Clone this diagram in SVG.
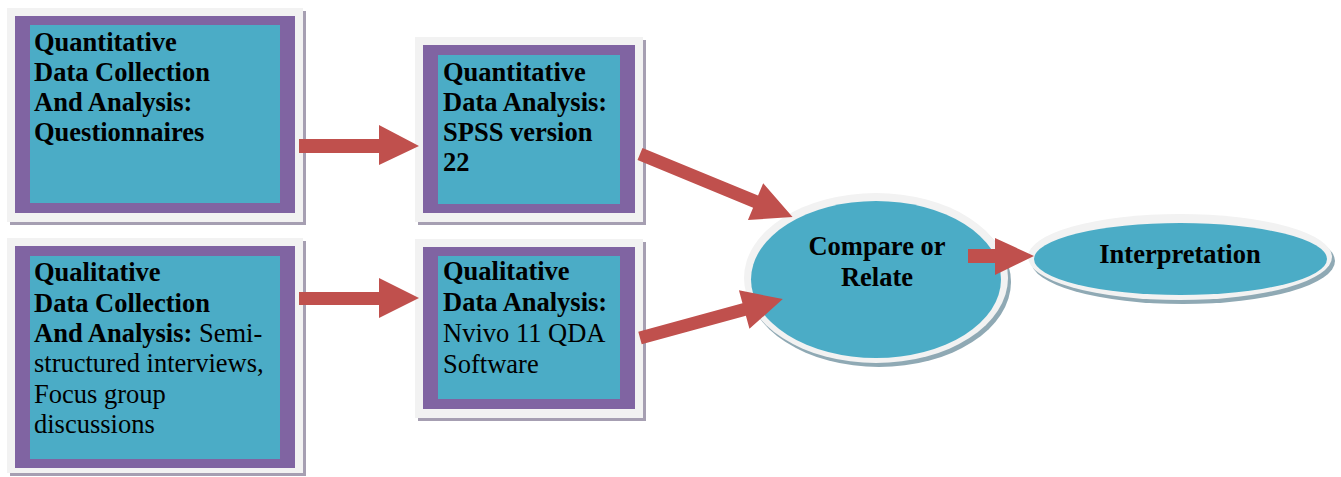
<svg xmlns="http://www.w3.org/2000/svg" width="1341" height="477" viewBox="0 0 1341 477">
<style>
.frame{fill:#f2f2f2}
.bshadow{fill:#a69fb2}
.eshadow{fill:#8fa9b4}
.purple{fill:#8064a2}
.teal{fill:#4bacc6}
.arrow{fill:#c0504d}
text{font-family:"Liberation Serif","Times New Roman",serif;font-size:26.5px;fill:#000}
.b{font-weight:bold}
</style>
<rect width="1341" height="477" fill="#ffffff"/>
<g id="quant-collection">
<rect class="bshadow" x="10" y="11" width="296" height="214"/>
<rect class="frame" x="7" y="8" width="296" height="214"/>
<rect class="purple" x="15" y="16" width="280" height="197"/>
<rect class="teal" x="30" y="25" width="250" height="178"/>
<text class="b"><tspan x="34" y="51">Quantitative</tspan><tspan x="34" y="81">Data Collection</tspan><tspan x="34" y="111">And Analysis:</tspan><tspan x="34" y="141">Questionnaires</tspan></text>
</g>
<g id="qual-collection">
<rect class="bshadow" x="10" y="241" width="296" height="235"/>
<rect class="frame" x="7" y="238" width="296" height="235"/>
<rect class="purple" x="15" y="246" width="280" height="222"/>
<rect class="teal" x="30" y="256" width="250" height="203"/>
<text><tspan class="b" x="34" y="281">Qualitative</tspan><tspan class="b" x="34" y="311.5">Data Collection</tspan><tspan x="34" y="342"><tspan class="b">And Analysis:</tspan> Semi-</tspan><tspan x="34" y="372">structured interviews,</tspan><tspan x="34" y="402.5">Focus group</tspan><tspan x="34" y="433">discussions</tspan></text>
</g>
<g id="quant-analysis">
<rect class="bshadow" x="418" y="40" width="228" height="185"/>
<rect class="frame" x="415" y="37" width="228" height="185"/>
<rect class="purple" x="423" y="45" width="212" height="168"/>
<rect class="teal" x="438" y="55" width="182" height="149"/>
<text class="b"><tspan x="443" y="80.5">Quantitative</tspan><tspan x="443" y="110.7">Data Analysis:</tspan><tspan x="443" y="141">SPSS version</tspan><tspan x="443" y="171">22</tspan></text>
</g>
<g id="qual-analysis">
<rect class="bshadow" x="418" y="242" width="228" height="179"/>
<rect class="frame" x="415" y="239" width="228" height="179"/>
<rect class="purple" x="423" y="247" width="212" height="162"/>
<rect class="teal" x="438" y="256" width="182" height="143"/>
<text><tspan class="b" x="443" y="280">Qualitative</tspan><tspan class="b" x="443" y="311">Data Analysis:</tspan><tspan x="443" y="341.7">Nvivo 11 QDA</tspan><tspan x="443" y="372.7">Software</tspan></text>
</g>
<g id="compare">
<ellipse class="eshadow" cx="879" cy="282" rx="132" ry="85"/>
<ellipse class="frame" cx="876" cy="278" rx="132" ry="85"/>
<ellipse class="teal" cx="876" cy="279.5" rx="125" ry="78.5"/>
<text class="b" text-anchor="middle"><tspan x="877" y="255">Compare or</tspan><tspan x="877" y="286">Relate</tspan></text>
</g>
<g id="interpretation">
<ellipse class="eshadow" cx="1183" cy="261" rx="152" ry="43"/>
<ellipse class="frame" cx="1180" cy="257" rx="152" ry="43"/>
<ellipse class="teal" cx="1180.5" cy="259" rx="146.5" ry="36"/>
<text class="b" text-anchor="middle" x="1180" y="263.3">Interpretation</text>
</g>
<g id="connectors">
<polygon class="arrow" points="299,139 379,139 379,125 419,146 379,165 379,153 299,153"/>
<polygon class="arrow" points="299,292 379,292 379,278 419,298 379,318 379,305 299,305"/>
<polygon class="arrow" transform="translate(640,154) rotate(22.4)" points="0,-6.5 125,-6.5 125,-20 165,0 125,20 125,6.5 0,6.5"/>
<polygon class="arrow" transform="translate(640,338) rotate(-15.26)" points="0,-6.5 108,-6.5 108,-20 148,0 108,20 108,6.5 0,6.5"/>
<polygon class="arrow" points="968,249 995,249 995,238 1034,256 995,275 995,263 968,263"/>
</g>
</svg>
